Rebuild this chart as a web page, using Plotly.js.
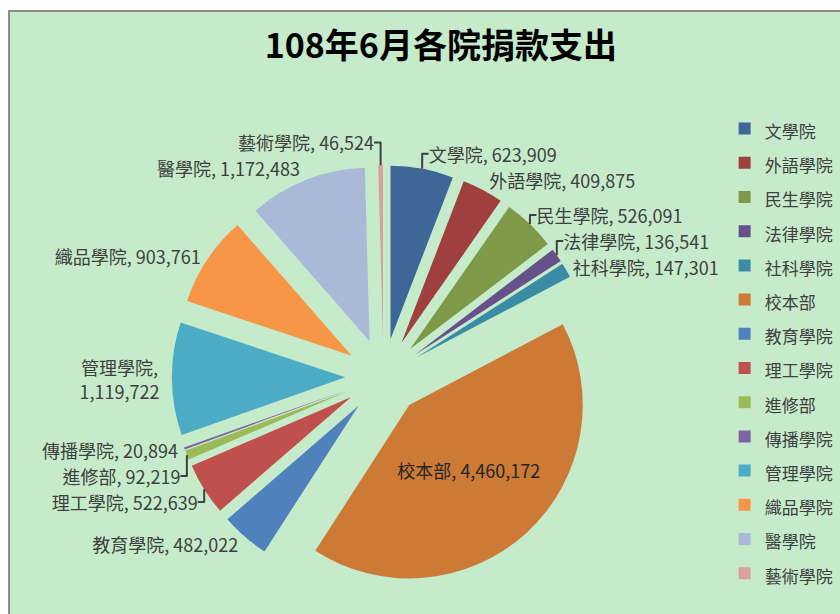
<!DOCTYPE html>
<html>
<head>
<meta charset="utf-8">
<script src="https://cdn.plot.ly/plotly-3.0.1.min.js"></script>
<style>
  html, body { margin: 0; padding: 0; background: #ffffff; width: 840px; height: 614px; overflow: hidden; }
  #frame { position: absolute; left: 8px; top: 10px; width: 832px; height: 604px;
           border-left: 2px solid #8c8c8c; border-top: 2px solid #8c8c8c; box-sizing: border-box; background: #c6ebca; }
  #chart { width: 830px; height: 602px; }
</style>
</head>
<body>
<div id="frame"><div id="chart"></div></div>
<script>
// ---- data ----
const categories = ["文學院", "外語學院", "民生學院", "法律學院", "社科學院", "校本部",
                    "教育學院", "理工學院", "進修部", "傳播學院", "管理學院", "織品學院", "醫學院", "藝術學院"];
const amounts = [623909, 409875, 526091, 136541, 147301, 4460172,
                 482022, 522639, 92219, 20894, 1119722, 903761, 1172483, 46524];
const sliceColors = ["#3e6697", "#9f403e", "#7e9a48", "#67518a", "#3a8ca6", "#cc7a36",
                     "#4f81bd", "#c0504d", "#9bbb59", "#8064a2", "#4bacc6", "#f79646", "#aab9d8", "#d9a0a0"];
const chartTitle = "108年6月各院捐款支出";

// ---- build ----
const legendLabels = categories.map(c => '<span style="font-size:17px">' + c + '</span>');
const templates = categories.map(c => c === "管理學院" ? "%{text},<br>%{value:,}" : "%{text}, %{value:,}");
const positions = categories.map(c => c === "校本部" ? "inside" : "outside");

const trace = {
  type: "pie",
  labels: legendLabels,
  text: categories,
  values: amounts,
  sort: false,
  direction: "clockwise",
  rotation: 0,
  pull: 0.22,
  marker: { colors: sliceColors, line: { width: 0 } },
  textinfo: "text",
  texttemplate: templates,
  textposition: positions,
  insidetextorientation: "horizontal",
  textfont: { family: "Noto Sans CJK TC", size: 18, color: "#404040" },
  outsidetextfont: { family: "Noto Sans CJK TC", size: 18, color: "#404040" },
  insidetextfont: { family: "Noto Sans CJK TC", size: 18, color: "#262626" },
  automargin: false,
  hoverinfo: "skip",
  domain: { x: [0.195, 0.705], y: [0.042, 0.746] }
};

const layout = {
  width: 830, height: 602,
  margin: { l: 0, r: 0, t: 0, b: 0 },
  paper_bgcolor: "#c6ebca",
  plot_bgcolor: "#c6ebca",
  title: {
    text: chartTitle,
    font: { family: "Noto Sans CJK TC", size: 34, color: "#000000", weight: 600 },
    x: 0.519, xanchor: "center", y: 0.943, yanchor: "middle"
  },
  showlegend: true,
  legend: {
    x: 0.861, xanchor: "left", y: 0.843, yanchor: "top",
    font: { family: "Noto Sans CJK TC", size: 24, color: "#404040" },
    bgcolor: "rgba(0,0,0,0)",
    traceorder: "normal"
  }
};

Plotly.newPlot("chart", [trace], layout, { displayModeBar: false, staticPlot: true });
</script>
</body>
</html>
